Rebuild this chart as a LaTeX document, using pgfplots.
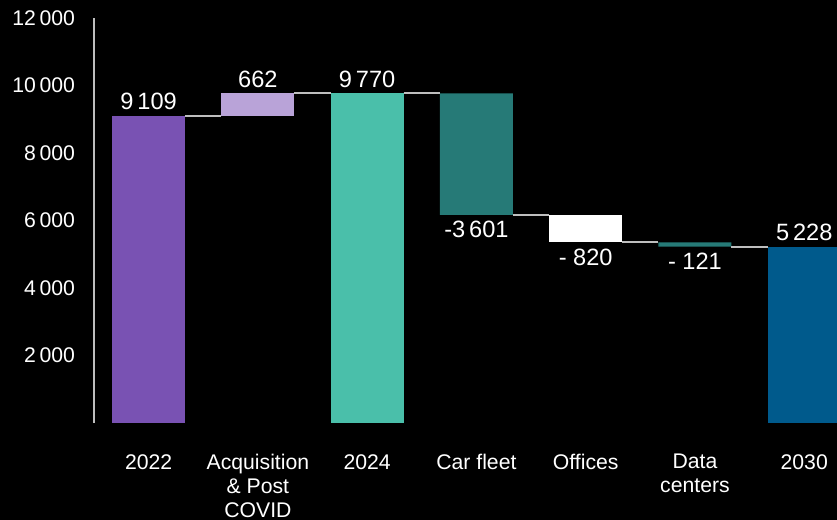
\documentclass[border=0pt]{standalone}
\usepackage{fontspec}
\setmainfont{Liberation Sans}
\usepackage{pgfplots}
\pgfplotsset{compat=1.18}
\usepackage{pgfplotstable}
\usetikzlibrary{backgrounds}

\definecolor{cPurple}{RGB}{121,82,179}
\definecolor{cLilac}{RGB}{185,163,216}
\definecolor{cTeal}{RGB}{74,191,170}
\definecolor{cDTeal}{RGB}{38,122,119}
\definecolor{cBlue}{RGB}{0,90,140}
\definecolor{cLine}{RGB}{190,190,190}

% waterfall: invisible base + visible step per colour
\pgfplotstableread{
x base purple lilac teal dteal white blue
0 0    9109 0   0    0    0   0
1 9109 0    661 0    0    0   0
2 0    0    0   9770 0    0   0
3 6169 0    0   0    3601 0   0
4 5349 0    0   0    0    820 0
5 5228 0    0   0    121  0   0
6 0    0    0   0    0    0   5228
}\wf

\newcommand\lblfont{\fontsize{10.6}{12}\selectfont}
\newcommand\valfont{\fontsize{11.8}{13}\selectfont}

\pgfplotsset{
  common/.style={
    width=371.5pt, height=202.5pt, scale only axis,
    xmin=-0.5, xmax=6.3, ymin=0, ymax=12000,
  },
}

\begin{document}
\begin{tikzpicture}[background rectangle/.style={fill=black},
  show background rectangle, inner frame sep=0pt]
\begin{axis}[
    common,
    ybar stacked, bar width=0.668,
    axis lines=left,
    axis line style={-},
    x axis line style={draw=none},
    y axis line style={draw=cLine, line width=1pt},
    major tick length=0pt,
    xtick={0,...,6},
    xticklabels={2022,{Acquisition\\\& Post\\COVID},2024,Car fleet,Offices,{Data\\centers},2030},
    xticklabel style={align=center, inner ysep=1pt, yshift=-14.5pt},
    ytick={2000,4000,...,12000},
    scaled y ticks=false,
    yticklabel style={xshift=-6pt},
    /pgf/number format/assume math mode=true,
    /pgf/number format/1000 sep={\,},
    tick label style={font=\lblfont, text=white},
    clip=true,
]
\addplot[draw=none, fill=none] table[x=x, y=base] {\wf};
\addplot[draw=none, fill=cPurple] table[x=x, y=purple] {\wf};
\addplot[draw=none, fill=cLilac] table[x=x, y=lilac] {\wf};
\addplot[draw=none, fill=cTeal] table[x=x, y=teal] {\wf};
\addplot[draw=none, fill=cDTeal] table[x=x, y=dteal] {\wf};
\addplot[draw=none, fill=white] table[x=x, y=white] {\wf};
\addplot[draw=none, fill=cBlue] table[x=x, y=blue] {\wf};
\end{axis}

\begin{axis}[common, hide axis, clip=false]
% connectors
\addplot[cLine, line width=1pt] coordinates {(0.334,9109) (0.666,9109)};
\addplot[cLine, line width=1pt] coordinates {(1.334,9770) (1.666,9770)};
\addplot[cLine, line width=1pt] coordinates {(2.334,9770) (2.666,9770)};
\addplot[cLine, line width=1pt] coordinates {(3.334,6169) (3.666,6169)};
\addplot[cLine, line width=1pt] coordinates {(4.334,5349) (4.666,5349)};
\addplot[cLine, line width=1pt] coordinates {(5.334,5228) (5.666,5228)};
% value labels
\addplot[only marks, mark=none, nodes near coords, point meta=explicit symbolic,
  nodes near coords style={anchor=south, inner ysep=2.5pt, inner xsep=0pt, font=\valfont, text=white}]
  coordinates {(0,9109)[9\,109] (1,9770)[662] (2,9770)[9\,770] (6,5228)[5\,228]};
\addplot[only marks, mark=none, nodes near coords, point meta=explicit symbolic,
  nodes near coords style={anchor=north, inner ysep=3pt, inner xsep=0pt, font=\valfont, text=white}]
  coordinates {(3,6169)[-3\,601] (4,5349)[- 820] (5,5228)[- 121]};
\end{axis}
\path (current axis.north west) ++(-47pt, 9pt);
\end{tikzpicture}
\end{document}
